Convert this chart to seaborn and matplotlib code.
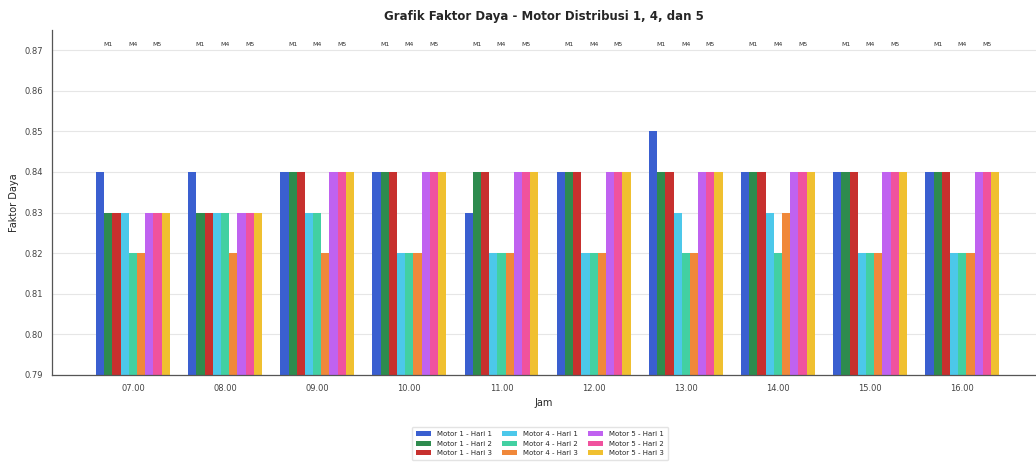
import matplotlib
matplotlib.use("Agg")
import matplotlib.pyplot as plt
import pandas as pd
import seaborn as sns

jam = ["07.00", "08.00", "09.00", "10.00", "11.00", "12.00", "13.00", "14.00", "15.00", "16.00"]

motor1_hari1 = [0.84, 0.84, 0.84, 0.84, 0.83, 0.84, 0.85, 0.84, 0.84, 0.84]
motor1_hari2 = [0.83, 0.83, 0.84, 0.84, 0.84, 0.84, 0.84, 0.84, 0.84, 0.84]
motor1_hari3 = [0.83, 0.83, 0.84, 0.84, 0.84, 0.84, 0.84, 0.84, 0.84, 0.84]
motor4_hari1 = [0.83, 0.83, 0.83, 0.82, 0.82, 0.82, 0.83, 0.83, 0.82, 0.82]
motor4_hari2 = [0.82, 0.83, 0.83, 0.82, 0.82, 0.82, 0.82, 0.82, 0.82, 0.82]
motor4_hari3 = [0.82, 0.82, 0.82, 0.82, 0.82, 0.82, 0.82, 0.83, 0.82, 0.82]
motor5_hari1 = [0.83, 0.83, 0.84, 0.84, 0.84, 0.84, 0.84, 0.84, 0.84, 0.84]
motor5_hari2 = [0.83, 0.83, 0.84, 0.84, 0.84, 0.84, 0.84, 0.84, 0.84, 0.84]
motor5_hari3 = [0.83, 0.83, 0.84, 0.84, 0.84, 0.84, 0.84, 0.84, 0.84, 0.84]

series = {
    "Motor 1 - Hari 1": motor1_hari1,
    "Motor 1 - Hari 2": motor1_hari2,
    "Motor 1 - Hari 3": motor1_hari3,
    "Motor 4 - Hari 1": motor4_hari1,
    "Motor 4 - Hari 2": motor4_hari2,
    "Motor 4 - Hari 3": motor4_hari3,
    "Motor 5 - Hari 1": motor5_hari1,
    "Motor 5 - Hari 2": motor5_hari2,
    "Motor 5 - Hari 3": motor5_hari3,
}
motor_labels = ["M1", "M4", "M5"]

colors = ["#3a5fd0", "#2e8b4e", "#c7302e", "#4cc8ea", "#42d0a2",
          "#f0883a", "#c062f0", "#f0529e", "#f0c030"]

rows = []
for name, vals in series.items():
    for j, v in zip(jam, vals):
        rows.append({"Jam": j, "Seri": name, "Faktor Daya": v})
df = pd.DataFrame(rows)

sns.set_style("white")
fig = plt.figure(figsize=(10.36, 4.68), dpi=100)
ax = fig.add_axes([0.05, 0.199, 0.95, 0.737])

sns.barplot(data=df, x="Jam", y="Faktor Daya", hue="Seri", order=jam,
            hue_order=list(series.keys()), palette=colors, width=0.8,
            saturation=1, linewidth=0, legend=True, ax=ax)

ax.set_ylim(0.79, 0.875)
ax.set_xlim(-0.88, 9.8)
ax.yaxis.grid(True, color="#e6e6e6", linewidth=0.8)
ax.set_axisbelow(True)
sns.despine(ax=ax)
for s in ["left", "bottom"]:
    ax.spines[s].set_color("#555555")
    ax.spines[s].set_linewidth(0.9)

ax.tick_params(axis="both", labelsize=6, length=3, colors="#444444")
ax.set_yticks([0.79, 0.80, 0.81, 0.82, 0.83, 0.84, 0.85, 0.86, 0.87])
ax.set_yticklabels(["0.79", "0.80", "0.81", "0.82", "0.83", "0.84", "0.85", "0.86", "0.87"])
ax.set_xlabel("Jam", fontsize=7)
ax.set_ylabel("Faktor Daya", fontsize=7)
ax.set_title("Grafik Faktor Daya - Motor Distribusi 1, 4, dan 5",
             fontsize=8.5, fontweight="bold", pad=7)

# M1 / M4 / M5 marks above each group
bw = 0.8 / 9
for i in range(len(jam)):
    for k, lab in enumerate(motor_labels):
        x = i - 0.4 + bw * (3 * k + 1.5)
        ax.text(x, 0.8715, lab, ha="center", va="center", fontsize=4.5, color="#333333")

handles, labels = ax.get_legend_handles_labels()
ax.legend_.remove()
fig.legend(handles, labels, loc="upper center", bbox_to_anchor=(0.521, 0.095),
           ncol=3, fontsize=5, frameon=True, edgecolor="#dddddd",
           handlelength=2.2, handleheight=0.7, columnspacing=1.5, borderpad=0.6)

fig.savefig("out.png", dpi=100)
